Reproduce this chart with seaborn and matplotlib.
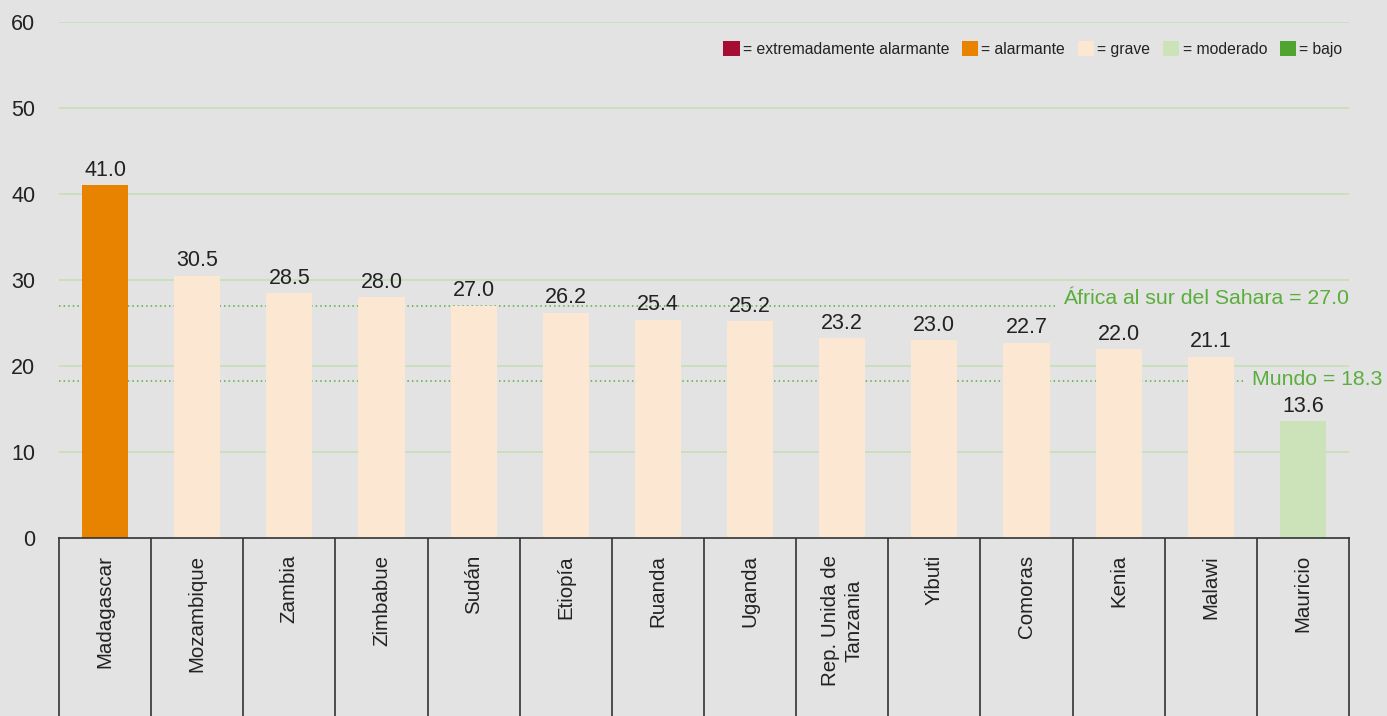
import matplotlib
matplotlib.use("Agg")
import matplotlib.pyplot as plt
from matplotlib.patches import Patch
import seaborn as sns
import pandas as pd

countries = ["Madagascar", "Mozambique", "Zambia", "Zimbabue", "Sudán", "Etiopía",
             "Ruanda", "Uganda", "Rep. Unida de\nTanzania", "Yibuti", "Comoras",
             "Kenia", "Malawi", "Mauricio"]
scores = [41.0, 30.5, 28.5, 28.0, 27.0, 26.2, 25.4, 25.2, 23.2, 23.0, 22.7, 22.0, 21.1, 13.6]
severity = ["alarmante"] + ["grave"] * 12 + ["moderado"]

levels = ["extremadamente alarmante", "alarmante", "grave", "moderado", "bajo"]
level_colors = ["#a50d33", "#e88300", "#fce8d2", "#cce2b9", "#50a531"]

ref_names = ["África al sur del Sahara", "Mundo"]
ref_values = [27.0, 18.3]

y_ticks = [0, 10, 20, 30, 40, 50, 60]

BG = "#e3e3e3"
GREEN = "#5aae3c"
GRID = "#c6e0b6"
TXT = "#222222"

sns.set_theme(style="white")
plt.rcParams["font.family"] = ["Liberation Sans", "DejaVu Sans"]

df = pd.DataFrame({"country": countries, "score": scores, "level": severity})
palette = dict(zip(levels, level_colors))

fig = plt.figure(figsize=(13.87, 7.16), dpi=100, facecolor=BG)
left, right = 59 / 1387, 1349 / 1387
bottom = (716 - 538) / 716
top = (716 - 22) / 716
ax = fig.add_axes([left, bottom, right - left, top - bottom])
ax.set_facecolor(BG)

sns.barplot(data=df, x="country", y="score", hue="level", palette=palette,
            dodge=False, width=0.5, legend=False, ax=ax, zorder=3,
            saturation=1, linewidth=0, edgecolor="none")

ax.set_ylim(0, 60)
ax.set_xlim(-0.5, len(countries) - 0.5)
ax.set_yticks(y_ticks)
ax.set_yticklabels([str(t) for t in y_ticks], fontsize=15.5, color=TXT)
ax.tick_params(axis="y", length=0, pad=17)
ax.set_xticks([])
ax.set_xlabel("")
ax.set_ylabel("")
for t in y_ticks[1:]:
    ax.axhline(t, color=GRID, lw=1.2, zorder=1)
for s in ax.spines.values():
    s.set_visible(False)

# value labels above bars
for i, v in enumerate(scores):
    ax.text(i, v + 0.5, f"{v:.1f}", ha="center", va="bottom", fontsize=15.5, color=TXT, zorder=4)

# regional and world reference lines
ax.axhline(ref_values[0], xmin=0, xmax=0.772, color=GREEN, lw=1.1, ls=(0, (1, 2)), zorder=2)
ax.text(1.0, ref_values[0] + 0.9, f"{ref_names[0]} = {ref_values[0]:.1f}", transform=ax.get_yaxis_transform(),
        ha="right", va="center", fontsize=15.3, color=GREEN, clip_on=False)
ax.axhline(ref_values[1], xmin=0, xmax=0.919, color=GREEN, lw=1.1, ls=(0, (1, 2)), zorder=2)
ax.text(0.925, ref_values[1] + 0.15, f"{ref_names[1]} = {ref_values[1]:.1f}", transform=ax.get_yaxis_transform(),
        ha="left", va="center", fontsize=15.3, color=GREEN, clip_on=False)

# legend
handles = [Patch(facecolor=c, edgecolor="none", label=f"= {l}") for l, c in zip(levels, level_colors)]
leg = ax.legend(handles=handles, ncol=5, loc="upper right", bbox_to_anchor=(0.9985, 0.972),
                borderaxespad=0, borderpad=0.3, frameon=False, handlelength=1.05, handleheight=1.1,
                handletextpad=0.2, columnspacing=0.8, prop={"size": 11.3})
for t in leg.get_texts():
    t.set_color(TXT)

# category boxes below the axis
bx = fig.add_axes([left, 0, right - left, bottom])
bx.set_facecolor(BG)
bx.set_xlim(-0.5, len(countries) - 0.5)
bx.set_ylim(0, 1)
bx.set_xticks([])
bx.set_yticks([])
bx.spines["bottom"].set_visible(False)
for k in ["top", "left", "right"]:
    bx.spines[k].set_color("#333333")
    bx.spines[k].set_linewidth(1.2)
for i in range(1, len(countries)):
    bx.axvline(i - 0.5, color="#333333", lw=1.2)
for i, c in enumerate(countries):
    bx.text(i, 0.905, c, rotation=90, ha="center", va="top", fontsize=14.8,
            color=TXT, linespacing=1.25, multialignment="center")

fig.savefig("out.png", dpi=100, facecolor=BG)
